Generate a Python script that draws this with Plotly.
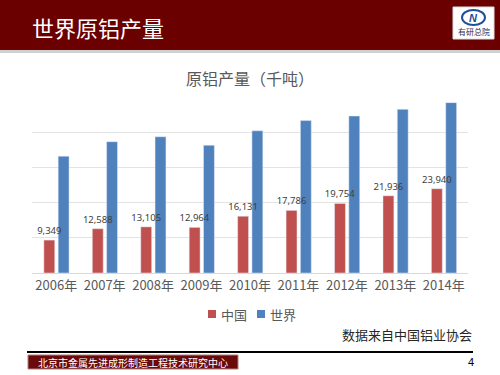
import plotly.graph_objects as go

years = ["2006年", "2007年", "2008年", "2009年", "2010年", "2011年", "2012年", "2013年", "2014年"]
china = [9349, 12588, 13105, 12964, 16131, 17786, 19754, 21936, 23940]
world = [33200, 37300, 38700, 36300, 40400, 43300, 44600, 46500, 48400]

W, H = 500, 375
L, R, T, B = 32, 32, 97, 102
PW, PH = W - L - R, H - T - B

def fx(x):
    return (x - L) / PW

def fy(y):
    return (H - B - y) / PH

CJK = "Noto Sans CJK SC, Noto Sans, sans-serif"
RED, BLUE = "#C0504D", "#4F81BD"

fig = go.Figure()
fig.add_trace(go.Bar(
    name="世界", x=years, y=world, marker_color=BLUE, width=0.225, offset=0.04,
))
fig.add_trace(go.Bar(
    name="中国", x=years, y=china, marker_color=RED, width=0.225, offset=-0.255,
    texttemplate="%{y:,}", textposition="outside", constraintext="none",
    textfont=dict(size=9.5, color="#404040", family="Noto Sans, sans-serif"),
    cliponaxis=False,
))

shapes = [
    dict(type="rect", xref="paper", yref="paper", x0=fx(0), x1=fx(500), y0=fy(0), y1=fy(50),
         fillcolor="#6B0000", line_width=0, layer="below"),
    dict(type="rect", xref="paper", yref="paper", x0=fx(0), x1=fx(500), y0=fy(50), y1=fy(53),
         fillcolor="#D0D0D0", line_width=0, layer="below"),
    dict(type="rect", xref="paper", yref="paper", x0=fx(453), x1=fx(494), y0=fy(7), y1=fy(39),
         fillcolor="white", line=dict(color="#DDDDDD", width=1)),
    dict(type="circle", xref="paper", yref="paper", x0=fx(462), x1=fx(485), y0=fy(10), y1=fy(25),
         fillcolor="white", line=dict(color="#1F4E9A", width=2)),
    dict(type="line", xref="paper", yref="paper", x0=fx(27), x1=fx(473), y0=fy(352), y1=fy(352),
         line=dict(color="black", width=2)),
    dict(type="rect", xref="paper", yref="paper", x0=fx(28), x1=fx(238), y0=fy(355), y1=fy(369),
         fillcolor="#6B0A0A", line=dict(color="#B08080", width=1)),
    dict(type="rect", xref="paper", yref="paper", x0=fx(208), x1=fx(216), y0=fy(310), y1=fy(318),
         fillcolor=RED, line_width=0),
    dict(type="rect", xref="paper", yref="paper", x0=fx(257), x1=fx(265), y0=fy(310), y1=fy(318),
         fillcolor=BLUE, line_width=0),
]

annotations = [
    dict(text="世界原铝产量", xref="paper", yref="paper", x=fx(30), y=fy(27), xanchor="left", yanchor="middle",
         showarrow=False, font=dict(size=22, color="white", family=CJK)),
    dict(text="原铝产量（千吨）", xref="paper", yref="paper", x=fx(250), y=fy(78), xanchor="center", yanchor="middle",
         showarrow=False, font=dict(size=16, color="#595959", family=CJK)),
    dict(text="<i><b>N</b></i>", xref="paper", yref="paper", x=fx(473.5), y=fy(17.5), xanchor="center", yanchor="middle",
         showarrow=False, font=dict(size=11, color="#1F4E9A", family="Liberation Sans")),
    dict(text="有研总院", xref="paper", yref="paper", x=fx(473.5), y=fy(32), xanchor="center", yanchor="middle",
         showarrow=False, font=dict(size=8, color="#1F3060", family=CJK)),
    dict(text="中国", xref="paper", yref="paper", x=fx(219), y=fy(314), xanchor="left", yanchor="middle",
         showarrow=False, font=dict(size=13, color="#595959", family=CJK)),
    dict(text="世界", xref="paper", yref="paper", x=fx(268), y=fy(314), xanchor="left", yanchor="middle",
         showarrow=False, font=dict(size=13, color="#595959", family=CJK)),
    dict(text="数据来自中国铝业协会", xref="paper", yref="paper", x=fx(474), y=fy(334), xanchor="right", yanchor="middle",
         showarrow=False, font=dict(size=13, color="#262626", family=CJK)),
    dict(text="北京市金属先进成形制造工程技术研究中心", xref="paper", yref="paper", x=fx(133), y=fy(362),
         xanchor="center", yanchor="middle", showarrow=False, font=dict(size=10, color="white", family=CJK)),
    dict(text="4", xref="paper", yref="paper", x=fx(471), y=fy(362), xanchor="center", yanchor="middle",
         showarrow=False, font=dict(size=11, color="black", family="Liberation Sans")),
]

fig.update_layout(
    width=W, height=H,
    margin=dict(l=L, r=R, t=T, b=B),
    paper_bgcolor="white", plot_bgcolor="white",
    barmode="overlay",
    showlegend=False,
    shapes=shapes, annotations=annotations,
    xaxis=dict(showgrid=False, showline=True, linecolor="#D9D9D9", linewidth=1, ticks="",
               tickfont=dict(size=13, color="#595959", family=CJK)),
    yaxis=dict(range=[0, 50000], dtick=10000, showgrid=True, gridcolor="#E3E3E3", gridwidth=1,
               showticklabels=False, zeroline=False, showline=False),
)

fig.write_html("out.html", config={"displayModeBar": False},
               post_script="document.body.style.margin='0';")
